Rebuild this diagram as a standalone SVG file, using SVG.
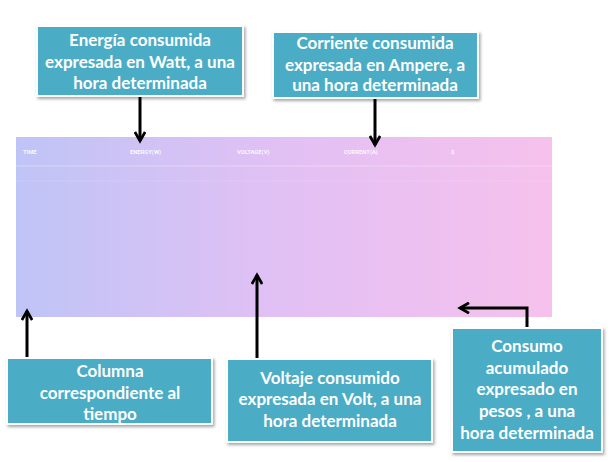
<svg xmlns="http://www.w3.org/2000/svg" width="611" height="462" viewBox="0 0 611 462">
<style>
.box{fill:#4bacc6;stroke:#ffffff;stroke-width:2;filter:url(#sh)}
.lbl{font-family:Lato,"Liberation Sans",sans-serif;font-weight:bold;font-size:17px;fill:#ffffff;text-anchor:middle}
.hdr{font-family:Roboto,"Liberation Sans",sans-serif;font-weight:bold;font-size:5.8px;fill:#ffffff;fill-opacity:0.9}
.con{fill:none;stroke:#000000;stroke-width:3}
</style>
<defs>
<linearGradient id="tg" x1="0" y1="0" x2="1" y2="0">
<stop offset="0" stop-color="#bfc4f6"/>
<stop offset="0.5" stop-color="#e2c0f4"/>
<stop offset="1" stop-color="#f6c1ec"/>
</linearGradient>
<filter id="sh" x="-10%" y="-10%" width="125%" height="130%">
<feDropShadow dx="1.5" dy="2" stdDeviation="1.5" flood-color="#000000" flood-opacity="0.35"/>
</filter>
<marker id="ah" viewBox="0 0 10 10" refX="8" refY="5" markerWidth="4.3" markerHeight="4.3" orient="auto" markerUnits="strokeWidth">
<path d="M1,1 L8,5 L1,9" fill="none" stroke="#000000" stroke-width="2.2"/>
</marker>
</defs>
<rect width="611" height="462" fill="#ffffff"/>
<g id="table">
<rect x="16" y="137" width="536" height="180" fill="url(#tg)"/>
<line x1="16" y1="166" x2="552" y2="166" stroke="#ffffff" stroke-opacity="0.35" stroke-width="1"/>
<line x1="16" y1="181" x2="552" y2="181" stroke="#ffffff" stroke-opacity="0.15" stroke-width="1"/>
<text class="hdr" x="23" y="154">TIME</text>
<text class="hdr" x="130" y="154">ENERGY(W)</text>
<text class="hdr" x="237" y="154">VOLTAGE(V)</text>
<text class="hdr" x="344" y="154">CURRENT(A)</text>
<text class="hdr" x="451" y="154">$</text>
</g>
<g id="connectors">
<path class="con" d="M140,97 L140,141" marker-end="url(#ah)"/>
<path class="con" d="M375,99 L375,145" marker-end="url(#ah)"/>
<path class="con" d="M27,358 L27,311" marker-end="url(#ah)"/>
<path class="con" d="M257,359 L257,275" marker-end="url(#ah)"/>
<path class="con" d="M527,328 L527,308 L460,308" marker-end="url(#ah)"/>
</g>
<g id="n-energia">
<rect class="box" x="37" y="26" width="206" height="70"/>
<text class="lbl" x="140" y="46">Energía consumida</text>
<text class="lbl" x="140" y="68">expresada en Watt, a una</text>
<text class="lbl" x="140" y="89">hora determinada</text>
</g>
<g id="n-corriente">
<rect class="box" x="273" y="32" width="205" height="66"/>
<text class="lbl" x="375" y="49">Corriente consumida</text>
<text class="lbl" x="375" y="71">expresada en Ampere, a</text>
<text class="lbl" x="375" y="91">una hora determinada</text>
</g>
<g id="n-columna">
<rect class="box" x="7" y="358" width="205" height="66"/>
<text class="lbl" x="110" y="377">Columna</text>
<text class="lbl" x="110" y="399">correspondiente al</text>
<text class="lbl" x="110" y="420">tiempo</text>
</g>
<g id="n-voltaje">
<rect class="box" x="227" y="359" width="205" height="83"/>
<text class="lbl" x="330" y="384">Voltaje consumido</text>
<text class="lbl" x="330" y="405">expresada en Volt, a una</text>
<text class="lbl" x="330" y="427">hora determinada</text>
</g>
<g id="n-consumo">
<rect class="box" x="452" y="328" width="150" height="124"/>
<text class="lbl" x="527" y="352">Consumo</text>
<text class="lbl" x="527" y="374">acumulado</text>
<text class="lbl" x="527" y="395">expresado en</text>
<text class="lbl" x="527" y="417">pesos , a una</text>
<text class="lbl" x="527" y="439">hora determinada</text>
</g>
</svg>
